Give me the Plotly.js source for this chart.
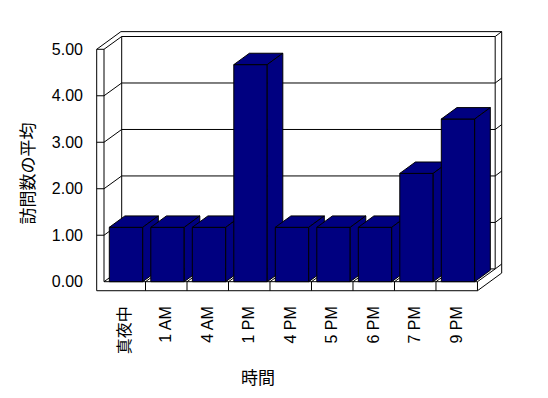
<!DOCTYPE html>
<html>
<head>
<meta charset="utf-8">
<script src="https://cdn.plot.ly/plotly-3.0.1.min.js"></script>
<style>html,body{margin:0;padding:0;background:#fff;}#chart{width:548px;height:398px;}</style>
</head>
<body>
<div id="chart"></div>
<script>
// ---- data ----
const categories = ['真夜中', '1 AM', '4 AM', '1 PM', '4 PM', '5 PM', '6 PM', '7 PM', '9 PM'];
const values = [1.17, 1.17, 1.17, 4.67, 1.17, 1.17, 1.17, 2.33, 3.5];
const yTickVals = [0, 1, 2, 3, 4, 5];
const yTickText = ['0.00', '1.00', '2.00', '3.00', '4.00', '5.00'];
const xTitle = '時間';
const yTitle = '訪問数の平均';

// ---- 3D look geometry (in axis units) ----
const N = categories.length;
const VMAX = 5;
const DU = 0.4265, DV = 0.275;     // wall depth offset
const BU = 0.157, BV = 0.105;      // back wall thickness offset
const WT = 0.176;                  // left wall thickness
const FT = 0.194;                  // floor thickness
const BAR_OFF = 0.128, BAR_W = 0.805;
const BDU = 0.376, BDV = 0.245;    // bar depth offset
const NAVY = '#000080';

function pt(u, v) { return u + ',' + v; }
function path(points) { return 'M' + points.map(p => pt(p[0], p[1])).join(' L') ; }

const shapes = [];
function addPath(points, closed, fill) {
  shapes.push({
    type: 'path', xref: 'x', yref: 'y', layer: 'below',
    path: path(points) + (closed ? ' Z' : ''),
    line: {color: '#000', width: 1},
    fillcolor: fill || 'rgba(0,0,0,0)'
  });
}
// front face of left wall + floor front
addPath([[-WT, VMAX], [0, VMAX], [0, 0], [N, 0], [N, -FT], [-WT, -FT]], true);
// top of left wall / back wall
addPath([[-WT, VMAX], [-WT + DU + BU, VMAX + DV + BV], [N + DU + BU, VMAX + DV + BV]], false);
addPath([[0, VMAX], [DU, VMAX + DV], [N + DU, VMAX + DV]], false);
addPath([[N + DU, VMAX + DV], [N + DU + BU, VMAX + DV + BV]], false);
// right edges of back wall
addPath([[N + DU, VMAX + DV], [N + DU, DV]], false);
addPath([[N + DU + BU, VMAX + DV + BV], [N + DU + BU, -FT + DV + BV], [N, -FT]], false);
addPath([[N, 0], [N + DU, DV], [N + DU + BU, DV + BV]], false);
// back wall inner left edge and floor back edge
addPath([[DU, VMAX + DV], [DU, DV], [N + DU, DV]], false);
addPath([[0, 0], [DU, DV]], false);
// gridlines
yTickVals.forEach(v => {
  if (v <= 0 || v >= VMAX) return;
  addPath([[-WT, v], [0, v], [DU, v + DV], [N + DU, v + DV], [N + DU + BU, v + DV + BV]], false);
});
// floor category dividers
for (let k = 1; k < N; k++) {
  addPath([[k, -FT], [k, 0], [k + DU, DV]], false);
}

// ---- bars as 3D boxes ----
const traces = [];
function poly(xs, ys) {
  traces.push({
    type: 'scatter', mode: 'lines', x: xs, y: ys, fill: 'toself',
    fillcolor: NAVY, line: {color: '#000', width: 1}, hoverinfo: 'skip', showlegend: false
  });
}
values.forEach((v, i) => {
  const a = i + BAR_OFF, b = a + BAR_W;
  poly([a, b, b, a, a], [0, 0, v, v, 0]);
  poly([a, b, b + BDU, a + BDU, a], [v, v, v + BDV, v + BDV, v]);
  poly([b, b + BDU, b + BDU, b, b], [0, BDV, v + BDV, v, 0]);
});

const fam = 'Liberation Sans, Arial, "Noto Sans CJK JP", sans-serif';
const layout = {
  width: 548, height: 398,
  margin: {l: 92, r: 44, t: 28, b: 104},
  paper_bgcolor: '#fff', plot_bgcolor: '#fff',
  showlegend: false,
  font: {family: fam, size: 16, color: '#000'},
  xaxis: {
    range: [-0.2892, 9.639], showgrid: false, zeroline: false, showline: false,
    tickvals: categories.map((c, i) => i + 0.5), ticktext: categories,
    tickangle: -90, ticks: '', ticklabelstandoff: 8,
    tickfont: {family: fam, size: 16, color: '#000000'},
    fixedrange: true
  },
  yaxis: {
    range: [-0.2646, 5.458], showgrid: false, zeroline: false, showline: false,
    tickvals: yTickVals, ticktext: yTickText, ticks: '', ticklabelstandoff: 8,
    tickfont: {family: fam, size: 16, color: '#000000'},
    fixedrange: true
  },
  shapes: shapes,
  annotations: [
    {text: xTitle, xref: 'paper', yref: 'paper', x: 0.403, y: -0.312, xanchor: 'center', yanchor: 'middle',
     showarrow: false, font: {family: '"Noto Sans CJK JP", sans-serif', size: 17, color: '#000'}},
    {text: yTitle, xref: 'paper', yref: 'paper', x: -0.16, y: 0.453, xanchor: 'center', yanchor: 'middle',
     textangle: -90, showarrow: false, font: {family: '"Noto Sans CJK JP", sans-serif', size: 17, color: '#000'}}
  ]
};
Plotly.newPlot('chart', traces, layout, {staticPlot: true, displayModeBar: false});
</script>
</body>
</html>
